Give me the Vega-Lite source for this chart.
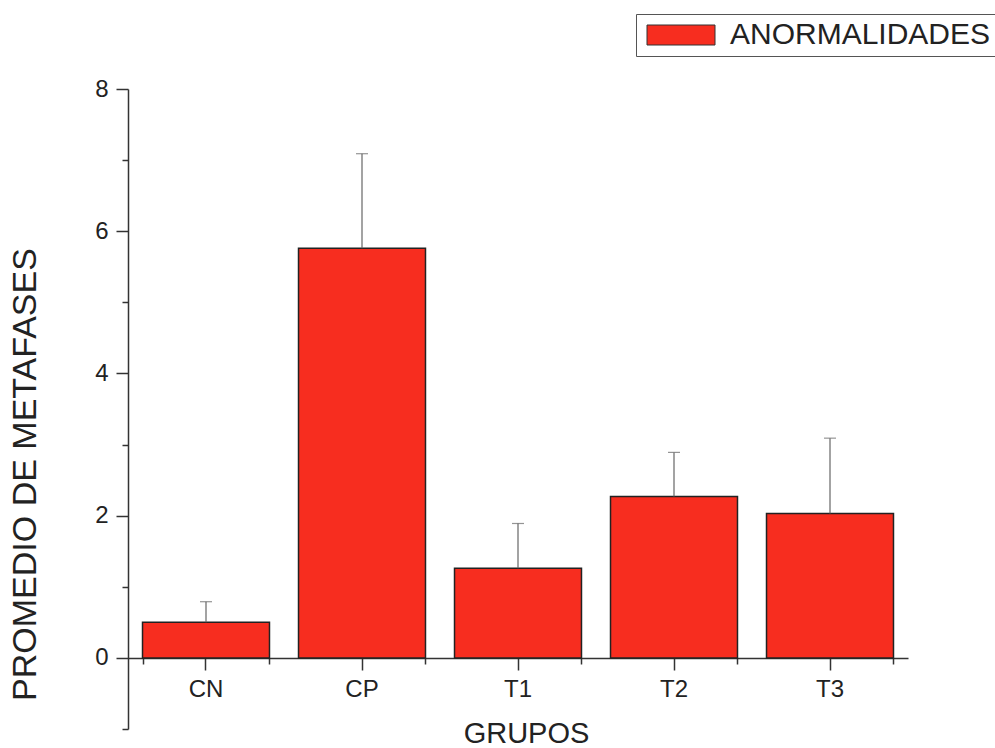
{
  "$schema": "https://vega.github.io/schema/vega-lite/v6.json",
  "width": 780,
  "height": 640,
  "autosize": {"type": "none"},
  "padding": {"left": 128, "top": 89, "right": 87, "bottom": 19},
  "background": "white",
  "config": {
    "view": {"stroke": null},
    "font": "Liberation Sans",
    "axis": {"labelFont": "Liberation Sans", "titleFont": "Liberation Sans", "labelColor": "#222", "titleColor": "#222", "titleFontWeight": "normal", "domainColor": "#333", "tickColor": "#333", "domainWidth": 1.5, "tickWidth": 1.5}
  },
  "data": {
    "values": [
      {"grupo": "CN", "media": 0.50, "sup": 0.79, "serie": "ANORMALIDADES"},
      {"grupo": "CP", "media": 5.76, "sup": 7.09, "serie": "ANORMALIDADES"},
      {"grupo": "T1", "media": 1.26, "sup": 1.89, "serie": "ANORMALIDADES"},
      {"grupo": "T2", "media": 2.27, "sup": 2.89, "serie": "ANORMALIDADES"},
      {"grupo": "T3", "media": 2.03, "sup": 3.09, "serie": "ANORMALIDADES"}
    ]
  },
  "resolve": {"axis": {"x": "independent"}},
  "layer": [
    {
      "mark": {"type": "bar", "stroke": "#222", "strokeWidth": 1.5},
      "encoding": {
        "x": {
          "field": "grupo", "type": "nominal", "sort": null,
          "scale": {"paddingInner": 0.186, "paddingOuter": 0.093},
          "axis": {"orient": "bottom", "title": "GRUPOS", "labelAngle": 0, "offset": -71, "tickSize": 12, "labelFontSize": 24, "labelPadding": 7, "titleFontSize": 29, "titleX": 398, "titleY": 84, "titleBaseline": "alphabetic", "titleAlign": "center"}
        },
        "y": {
          "field": "media", "type": "quantitative",
          "scale": {"domain": [-1, 8], "nice": false, "zero": false},
          "axis": {
            "title": "PROMEDIO DE METAFASES",
            "values": [-1, 0, 1, 2, 3, 4, 5, 6, 7, 8],
            "format": "d",
            "labelExpr": "datum.value >= 0 && datum.value % 2 == 0 ? datum.label : ''",
            "tickSize": {"condition": {"test": "datum.value % 2 == 0", "value": 12}, "value": 6},
            "grid": false, "labelFontSize": 24, "labelPadding": 8,
            "titleFontSize": 34, "titleX": -103, "titleY": 385, "titleAlign": "center", "titleBaseline": "middle", "titleAngle": -90
          }
        },
        "color": {
          "field": "serie", "type": "nominal",
          "scale": {"range": ["#f72d1f"]},
          "legend": {
            "title": null, "orient": "none", "legendX": 508, "legendY": -75,
            "strokeColor": "#555", "padding": 6, "fillColor": "white",
            "symbolType": "M-1,-1H5.8V1H-1Z", "symbolSize": 400,
            "symbolStrokeColor": "#333", "symbolStrokeWidth": 1, "symbolOpacity": 1,
            "labelFontSize": 30, "labelColor": "#222", "labelOffset": 58, "labelLimit": 0, "labelFont": "Liberation Sans"
          }
        }
      }
    },
    {
      "mark": {"type": "rule", "color": "#666", "strokeWidth": 1.2},
      "encoding": {
        "x": {
          "field": "grupo", "type": "nominal", "sort": null,
          "axis": {"orient": "bottom", "title": null, "labels": false, "domain": false, "tickBand": "extent", "tickSize": 6, "offset": -71}
        },
        "y": {"field": "media", "type": "quantitative"},
        "y2": {"field": "sup"}
      }
    },
    {
      "mark": {"type": "tick", "orient": "horizontal", "size": 12, "thickness": 1.2, "color": "#666"},
      "encoding": {
        "x": {"field": "grupo", "type": "nominal", "sort": null, "axis": null},
        "y": {"field": "sup", "type": "quantitative"}
      }
    }
  ]
}
